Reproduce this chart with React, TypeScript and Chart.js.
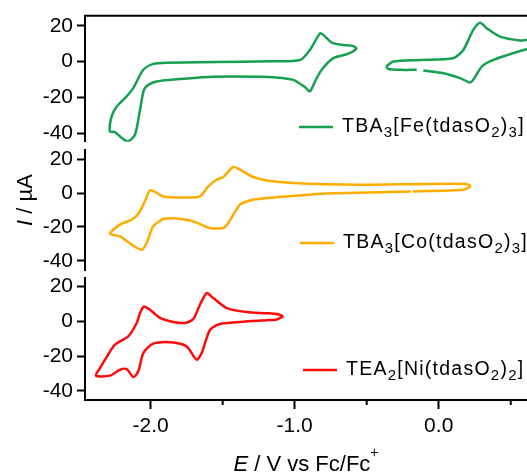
import React, { useEffect, useRef } from 'react';
import { Chart, registerables } from 'chart.js';

Chart.register(...registerables);

const FONT = '"Liberation Sans", Arial, Helvetica, sans-serif';
const W = 527;
const H = 475;

// ---------- axis settings ----------
const X_MIN = -2.456;
const X_MAX = 0.613;
const xMajorTicks = [-2, -1, 0];
const xMajorLabels = ['-2.0', '-1.0', '0.0'];
const xMinorTicks = [-1.5, -0.5, 0.5];
const yTicks = [-40, -20, 0, 20];
const yTickLabels = ['-40', '-20', '0', '20'];

// ---------- data (E / V vs Fc/Fc+, I / µA) ----------
const feLoop1E = [-0.567, -0.595, -0.639, -0.732, -0.8125, -0.859, -0.894, -0.928, -1.01, -1.149, -1.241, -1.567, -1.774, -1.958, -2.017, -2.047, -2.074, -2.109, -2.16, -2.206, -2.248, -2.283, -2.271, -2.236, -2.178, -2.121, -2.051, -1.982, -1.889, -1.542, -1.172, -0.963, -0.894, -0.824, -0.801, -0.743, -0.6625, -0.604, -0.567];
const feLoop1I = [7.6, 5.7, 4.1, 1.9, -4.6, -11.1, -16.7, -14.3, -10.2, -8.7, -8.4, -8.4, -9.6, -11.1, -13.0, -15.8, -26.9, -40.8, -44.6, -42.2, -39.3, -39.0, -30.6, -25.1, -20.4, -14.8, -4.6, -1.3, -0.6, -0.3, 0.2, 0.9, 6.5, 15.8, 14.9, 10.6, 9.3, 8.9, 7.6];

const feLoop2E = [-0.366, -0.315, -0.13, 0.101, 0.171, 0.24, 0.287, 0.333, 0.426, 0.565, 0.611, 0.66, 0.7, 0.66, 0.611, 0.518, 0.379, 0.299, 0.24, 0.217, 0.148, 0.032, -0.107, -0.13, -0.153, -0.269, -0.35, -0.366];
const feLoop2I: (number | null)[] = [-2.8, 0.0, 0.9, 1.9, 6.5, 17.7, 21.7, 18.6, 13.9, 11.7, 12.1, 11.8, 9.5, 7.0, 6.9, 4.7, 0.9, -2.8, -10.2, -11.7, -9.2, -6.5, -5.0, null, -4.6, -4.6, -4.1, -2.8];

const coE = [0.224, 0.171, -0.18, -0.1875, -0.195, -0.778, -1.0, -1.194, -1.31, -1.38, -1.461, -1.496, -1.588, -1.704, -1.843, -1.9125, -1.982, -2.028, -2.0625, -2.132, -2.213, -2.283, -2.213, -2.132, -2.086, -2.04, -2.005, -1.97, -1.9125, -1.774, -1.658, -1.6, -1.542, -1.496, -1.426, -1.38, -1.2875, -1.194, -1.01, -0.5465, -0.083, 0.194, 0.224];
const coI: (number | null)[] = [3.9, 1.9, 0.9, null, 0.9, -0.3, -1.6, -3.0, -4.4, -6.9, -17.6, -20.6, -20.6, -16.7, -14.9, -15.3, -19.6, -29.4, -33.4, -30.4, -25.5, -23.9, -18.6, -15.7, -12.2, -4.9, 1.5, 0.6, -2.0, -2.6, -2.0, 3.9, 7.8, 9.4, 15.3, 13.7, 9.4, 7.4, 5.9, 4.9, 5.3, 5.3, 3.9];

const niE = [-1.079, -1.13, -1.194, -1.38, -1.519, -1.588, -1.646, -1.681, -1.75, -1.843, -1.982, -2.051, -2.086, -2.121, -2.167, -2.213, -2.283, -2.38, -2.352, -2.306, -2.248, -2.156, -2.097, -2.074, -2.047, -2.005, -1.935, -1.843, -1.762, -1.704, -1.658, -1.611, -1.565, -1.472, -1.333, -1.194, -1.116, -1.079];
const niI = [2.9, 1.0, 0.7, -0.3, -1.5, -4.8, -18.2, -22.0, -14.4, -12.1, -12.8, -18.2, -28.7, -32.0, -27.4, -27.8, -31.2, -31.2, -26.8, -20.5, -13.4, -8.6, -0.9, 4.8, 8.6, 6.7, 2.0, -0.3, -0.9, 1.4, 9.6, 16.3, 13.4, 7.7, 5.4, 4.7, 4.1, 2.9];

// label parts: 0 normal, 1 subscript, 2 italic, 3 superscript
type Part = [string, number];
const feLabel: Part[] = [['TBA', 0], ['3', 1], ['[Fe(tdasO', 0], ['2', 1], [')', 0], ['3', 1], [']', 0]];
const coLabel: Part[] = [['TBA', 0], ['3', 1], ['[Co(tdasO', 0], ['2', 1], [')', 0], ['3', 1], [']', 0]];
const niLabel: Part[] = [['TEA', 0], ['2', 1], ['[Ni(tdasO', 0], ['2', 1], [')', 0], ['2', 1], [']', 0]];
const xTitle: Part[] = [['E', 2], [' / V vs Fc/Fc', 0], ['+', 3]];
const yTitle: Part[] = [['I', 2], [' / µA', 0]];

const GREEN = '#17a050';
const ORANGE = '#ffac00';
const RED = '#ff0a0a';

function toPoints(xs: number[], ys: (number | null)[]) {
  return xs.map((x, i) => ({ x, y: ys[i] }));
}

function fontFor(kind: number, size: number, small: number) {
  if (kind === 2) return `italic ${size}px ${FONT}`;
  if (kind === 1 || kind === 3) return `${small}px ${FONT}`;
  return `${size}px ${FONT}`;
}

function drawParts(ctx: any, parts: Part[], x: number, base: number, size: number, small: number, center: boolean, spacing = 0) {
  ctx.save();
  try { ctx.letterSpacing = spacing + 'px'; } catch (e) { /* ignore */ }
  let total = 0;
  for (const [t, k] of parts) {
    ctx.font = fontFor(k, size, small);
    total += ctx.measureText(t).width;
  }
  let cx = center ? x - total / 2 : x;
  ctx.textAlign = 'left';
  ctx.textBaseline = 'alphabetic';
  ctx.fillStyle = '#000';
  for (const [t, k] of parts) {
    ctx.font = fontFor(k, size, small);
    const dy = k === 1 ? 5 : k === 3 ? -size * 0.65 : 0;
    ctx.fillText(t, cx, base + dy);
    cx += ctx.measureText(t).width;
  }
  ctx.restore();
}

function drawLegend(ctx: any, x: number, y: number, color: string, parts: Part[]) {
  ctx.save();
  ctx.strokeStyle = color;
  ctx.lineWidth = 2.6;
  ctx.beginPath();
  ctx.moveTo(x, y);
  ctx.lineTo(x + 34, y);
  ctx.stroke();
  ctx.restore();
  drawParts(ctx, parts, x + 43, y + 4.5, 19.5, 15, false, 1.25);
}

interface PanelCfg {
  top: number;
  bottom: number;
  yMin: number;
  yMax: number;
  showX: boolean;
  datasets: any[];
  draw: (chart: any) => void;
}

function isMajor(v: number) {
  return xMajorTicks.some((t) => Math.abs(t - v) < 1e-6);
}

function makeChart(canvas: HTMLCanvasElement, cfg: PanelCfg) {
  return new Chart(canvas, {
    type: 'line',
    data: { datasets: cfg.datasets },
    options: {
      animation: false,
      responsive: false,
      maintainAspectRatio: false,
      devicePixelRatio: 1,
      events: [],
      layout: { padding: { top: cfg.top, bottom: cfg.showX ? 0 : H - cfg.bottom, left: 0, right: 0 } },
      plugins: { legend: { display: false }, tooltip: { enabled: false } },
      elements: { point: { radius: 0 }, line: { tension: 0.25, borderWidth: 2.5 } },
      scales: {
        x: {
          type: 'linear',
          min: X_MIN,
          max: X_MAX,
          display: cfg.showX,
          position: 'bottom',
          afterFit: (s: any) => {
            s.height = cfg.showX ? H - cfg.bottom : 0;
            s.paddingLeft = 0;
            s.paddingRight = 0;
          },
          border: { display: true, color: '#000', width: 2 },
          grid: {
            drawOnChartArea: false,
            drawTicks: true,
            tickLength: 9,
            tickWidth: 2,
            tickColor: (c: any) => (c.tick && isMajor(c.tick.value) ? '#000' : 'rgba(0,0,0,0)'),
          },
          ticks: {
            stepSize: 0.5,
            includeBounds: false,
            autoSkip: false,
            maxRotation: 0,
            minRotation: 0,
            padding: 5,
            color: '#000',
            font: { family: FONT, size: 21 },
            callback: (v: any) => {
              const i = xMajorTicks.findIndex((t) => Math.abs(t - Number(v)) < 1e-6);
              return i >= 0 ? xMajorLabels[i] : '';
            },
          },
        },
        y: {
          type: 'linear',
          min: cfg.yMin,
          max: cfg.yMax,
          afterFit: (s: any) => {
            s.width = 85;
            s.paddingTop = 0;
            s.paddingBottom = 0;
          },
          border: { display: true, color: '#000', width: 2 },
          grid: { drawOnChartArea: false, drawTicks: true, tickLength: 8, tickWidth: 2, tickColor: '#000' },
          ticks: {
            stepSize: 20,
            includeBounds: false,
            padding: 4,
            color: '#000',
            font: { family: FONT, size: 21 },
            callback: (v: any) => {
              const i = yTicks.findIndex((t) => Math.abs(t - Number(v)) < 1e-6);
              return i >= 0 ? yTickLabels[i] : '';
            },
          },
        },
      },
    } as any,
    plugins: [
      {
        id: 'panelDecor',
        afterDraw: (chart: any) => cfg.draw(chart),
      },
    ],
  });
}

export default function App() {
  const c1 = useRef<HTMLCanvasElement>(null);
  const c2 = useRef<HTMLCanvasElement>(null);
  const c3 = useRef<HTMLCanvasElement>(null);

  useEffect(() => {
    const lineDs = (pts: any[], color: string) => ({
      data: pts,
      borderColor: color,
      backgroundColor: color,
      fill: false,
      spanGaps: false,
    });

    const ch1 = makeChart(c1.current!, {
      top: 15.7,
      bottom: 141.7,
      yMin: -44.7,
      yMax: 25.6,
      showX: false,
      datasets: [lineDs(toPoints(feLoop1E, feLoop1I), GREEN), lineDs(toPoints(feLoop2E, feLoop2I), GREEN)],
      draw: (chart) => {
        const { ctx, chartArea } = chart;
        ctx.save();
        ctx.strokeStyle = '#000';
        ctx.lineWidth = 2;
        ctx.beginPath();
        ctx.moveTo(chartArea.left - 1, chartArea.top);
        ctx.lineTo(chartArea.right, chartArea.top);
        ctx.stroke();
        ctx.restore();
        drawLegend(ctx, 299, 127, GREEN, feLabel);
      },
    });

    const ch2 = makeChart(c2.current!, {
      top: 150,
      bottom: 270,
      yMin: -45.3,
      yMax: 25.3,
      showX: false,
      datasets: [lineDs(toPoints(coE, coI), ORANGE)],
      draw: (chart) => {
        const { ctx } = chart;
        drawLegend(ctx, 300, 243, ORANGE, coLabel);
        ctx.save();
        ctx.translate(32, 200);
        ctx.rotate(-Math.PI / 2);
        drawParts(ctx, yTitle, 0, 0, 22, 14, true);
        ctx.restore();
      },
    });

    const ch3 = makeChart(c3.current!, {
      top: 278.3,
      bottom: 400,
      yMin: -45.2,
      yMax: 24.8,
      showX: true,
      datasets: [lineDs(toPoints(niE, niI), RED)],
      draw: (chart) => {
        const { ctx, chartArea } = chart;
        const xs = chart.scales.x;
        ctx.save();
        ctx.strokeStyle = '#000';
        ctx.lineWidth = 2;
        for (const v of xMinorTicks) {
          const px = xs.getPixelForValue(v);
          ctx.beginPath();
          ctx.moveTo(px, chartArea.bottom);
          ctx.lineTo(px, chartArea.bottom + 5);
          ctx.stroke();
        }
        ctx.restore();
        drawLegend(ctx, 303, 370, RED, niLabel);
        drawParts(ctx, xTitle, (chartArea.left + chartArea.right) / 2, 471, 22, 14, true);
      },
    });

    return () => {
      ch1.destroy();
      ch2.destroy();
      ch3.destroy();
    };
  }, []);

  const canvasStyle: React.CSSProperties = { position: 'absolute', left: 0, top: 0, width: W, height: H };
  return (
    <div style={{ position: 'absolute', left: 0, top: 0, width: W, height: H, background: '#fff', overflow: 'hidden' }}>
      <canvas ref={c1} width={W} height={H} style={canvasStyle} />
      <canvas ref={c2} width={W} height={H} style={canvasStyle} />
      <canvas ref={c3} width={W} height={H} style={canvasStyle} />
    </div>
  );
}
